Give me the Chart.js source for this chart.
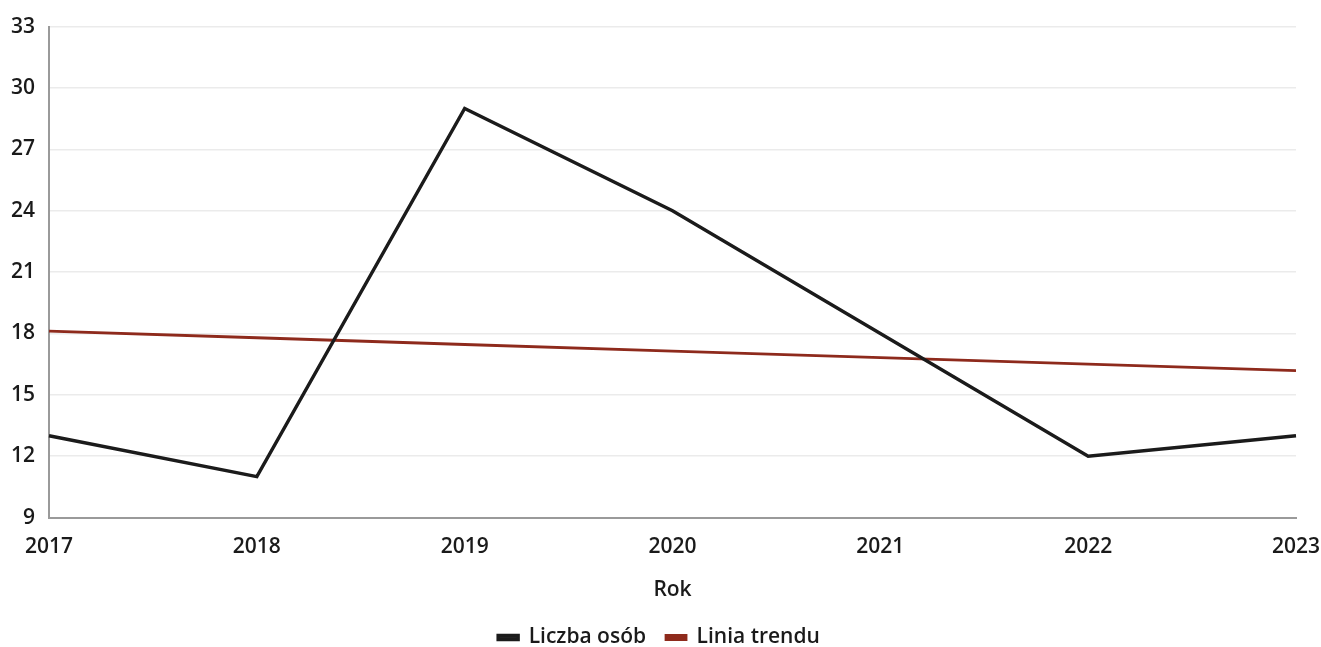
<!DOCTYPE html>
<html>
<head>
<meta charset="utf-8">
<script src="https://cdn.jsdelivr.net/npm/chart.js@4/dist/chart.umd.min.js"></script>
<style>
  html, body { margin: 0; padding: 0; background: #ffffff; }
  #wrap { width: 1321px; height: 647px; position: relative; }
</style>
</head>
<body>
<div id="wrap"><canvas id="c"></canvas></div>
<script>
const years = ['2017', '2018', '2019', '2020', '2021', '2022', '2023'];
const liczbaOsob = [13, 11, 29, 24, 18, 12, 13];
const liniaTrendu = [18.11, 17.79, 17.46, 17.14, 16.82, 16.5, 16.18];
const yTicks = [9, 12, 15, 18, 21, 24, 27, 30, 33];

const FONT = "'Open Sans', 'Noto Sans', sans-serif";
const TEXT = '#1a1a1a';
const WEIGHT = '600';

new Chart(document.getElementById('c'), {
  type: 'line',
  data: {
    labels: years,
    datasets: [
      {
        label: 'Liczba osób',
        data: liczbaOsob,
        borderColor: '#1b1b1b',
        backgroundColor: '#2b2b2b',
        borderWidth: 3.4,
        pointRadius: 0,
        tension: 0
      },
      {
        label: 'Linia trendu',
        data: liniaTrendu,
        borderColor: '#8e2a1c',
        backgroundColor: '#8e2a1c',
        borderWidth: 2.8,
        pointRadius: 0,
        tension: 0
      }
    ]
  },
  options: {
    responsive: true,
    maintainAspectRatio: false,
    animation: false,
    layout: { padding: { left: -3, right: 0, top: 10, bottom: -11 } },
    plugins: {
      tooltip: { enabled: false },
      legend: {
        position: 'bottom',
        labels: {
          boxWidth: 20,
          boxHeight: 4,
          padding: 20,
          color: TEXT,
          font: { family: FONT, size: 21, weight: WEIGHT }
        }
      }
    },
    scales: {
      x: {
        offset: false,
        afterFit: (scale) => { scale.paddingLeft = 0; scale.paddingRight = 25; },
        grid: { display: false, drawTicks: false },
        border: { display: true, color: '#9a9a9a', width: 2 },
        ticks: {
          color: TEXT,
          padding: 17,
          maxRotation: 0,
          font: { family: FONT, size: 21, weight: WEIGHT }
        },
        title: {
          display: true,
          text: 'Rok',
          color: TEXT,
          padding: { top: 1, bottom: 4 },
          font: { family: FONT, size: 21, weight: WEIGHT }
        }
      },
      y: {
        min: 9,
        max: 33,
        afterBuildTicks: (axis) => { axis.ticks = yTicks.map(v => ({ value: v })); },
        grid: { color: '#ebebeb', lineWidth: 1.5, drawTicks: false },
        border: { display: true, color: '#9a9a9a', width: 2 },
        ticks: {
          color: TEXT,
          padding: 14,
          font: { family: FONT, size: 21, weight: WEIGHT }
        }
      }
    }
  }
});
</script>
</body>
</html>
